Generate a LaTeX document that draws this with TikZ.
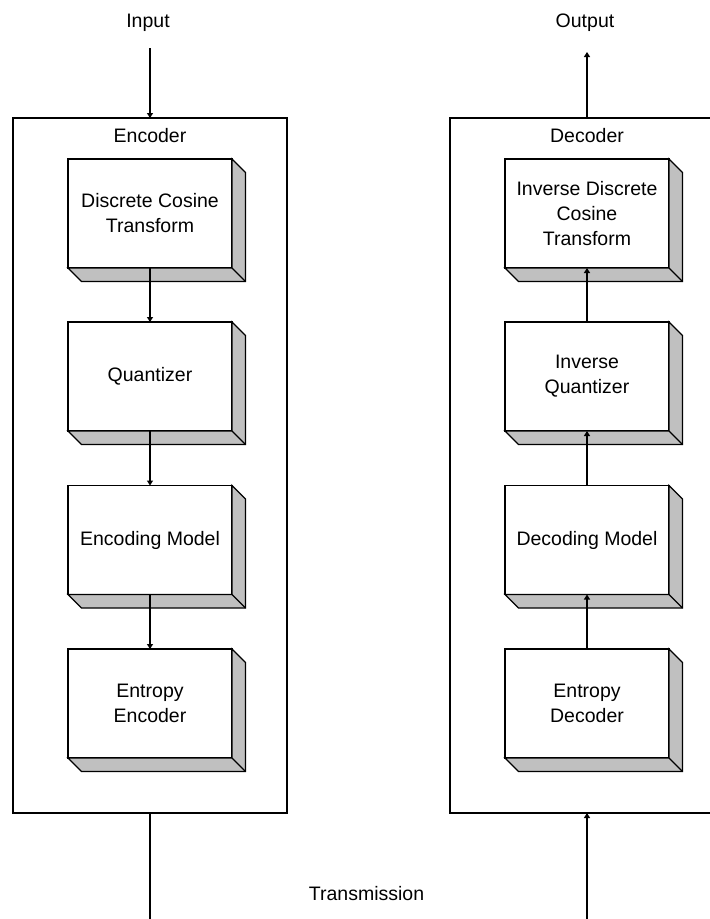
\documentclass[tikz,border=0pt]{standalone}
\usepackage{fontspec}
\setmainfont{Liberation Sans}
\usetikzlibrary{arrows.meta,calc}
\definecolor{shade}{RGB}{192,192,192}
\begin{document}
\begin{tikzpicture}[x=1pt,y=-1pt,
  font=\fontsize{19.5}{25}\selectfont,
  frame/.style={draw, line width=1.4pt, inner sep=0pt, outer sep=0pt},
  stage/.style={draw, fill=white, line width=1.4pt, inner sep=0pt, outer sep=0pt,
    minimum width=164pt, minimum height=109pt, align=center},
  flow/.style={line width=1.4pt, -{Triangle[length=5pt,width=6pt]}},
  wire/.style={line width=1.4pt},
  lbl/.style={anchor=base, inner sep=0pt}]
\useasboundingbox (0,0) rectangle (710,919);
\clip (0,0) rectangle (710,919);

% outer frames
\node[frame, minimum width=274pt, minimum height=695pt] (enc) at (150,465.5) {};
\node[frame, minimum width=270pt, minimum height=695pt] (dec) at (585,465.5) {};

\node[lbl] (enclbl) at (150,142) {Encoder};
\node[lbl] (declbl) at (587,142) {Decoder};

% encoder stages
\node[stage] (dct)   at (150,213.5) {Discrete Cosine\\Transform};
\node[stage] (quant) at (150,376.5) {Quantizer};
\node[stage] (emod)  at (150,540)   {Encoding Model};
\node[stage] (eenc)  at (150,703.5) {Entropy\\Encoder};

% decoder stages
\node[stage] (idct)   at (587,213.5) {Inverse Discrete\\Cosine\\Transform};
\node[stage] (iquant) at (587,376.5) {Inverse\\Quantizer};
\node[stage] (dmod)   at (587,540)   {Decoding Model};
\node[stage] (edec)   at (587,703.5) {Entropy\\Decoder};

% raised-block sides
\foreach \n in {dct,quant,emod,eenc,idct,iquant,dmod,edec}{
  \filldraw[fill=shade, line width=1.4pt, line join=miter]
    (\n.north east) -- ++(13.5,13.5) -- ($(\n.south east)+(13.5,13.5)$)
    -- ($(\n.south west)+(13.5,13.5)$) -- (\n.south west) -- (\n.south east) -- cycle;
  \draw[line width=1.4pt] (\n.south east) -- ++(13.5,13.5);
}

% encoder chain
\draw[flow] (dct) -- (quant);
\draw[flow] (quant) -- (emod);
\draw[flow] (emod) -- (eenc);

% decoder chain
\draw[flow] (edec) -- (dmod);
\draw[flow] (dmod) -- (iquant);
\draw[flow] (iquant) -- (idct);

% input, output and channel
\node[lbl] (inlbl) at (148,27) {Input};
\node[lbl] (outlbl) at (585,27) {Output};
\node[lbl] (txlbl) at (366.5,900) {Transmission};

\coordinate (insrc) at (150,48);
\coordinate (outdst) at (587,52);
\coordinate (txenc) at (150,919);
\coordinate (txdec) at (587,919);

\draw[flow] (insrc) -- (enc.north);
\draw[flow] (idct.north |- dec.north) -- (outdst);
\draw[wire] (enc.south) -- (txenc);
\draw[flow] (txdec) -- (idct.south |- dec.south);
\end{tikzpicture}
\end{document}
